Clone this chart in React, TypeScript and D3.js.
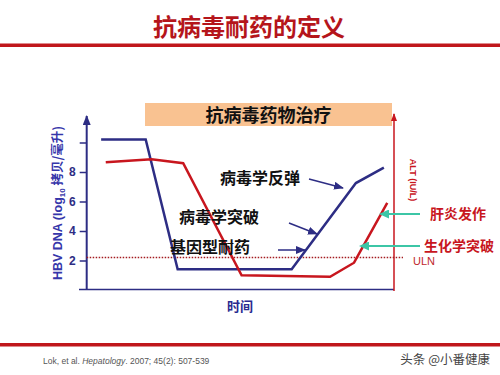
import React, { useEffect, useRef } from 'react';
import * as d3 from 'd3';

// time is in arbitrary units (0-100)
const dnaTime = [4.7, 19.2, 29.6, 66.7, 87.6, 96.7];
const dnaValues = [10.2, 10.2, 1.4, 1.4, 7.25, 8.3];
const altTime = [6.2, 21.1, 31.4, 50.4, 79.2, 87, 97.8];
const altValues = [8.66, 8.86, 8.6, 1.0, 0.9, 1.85, 5.9];
const yTicks = [2, 4, 6, 8, 10];
const tickLabels = ['2', '4', '6', '8', ''];
const ulnValue = 2.2;

const NAVY = '#2d2d84';
const RED = '#c8161e';
const TEAL = '#3cc6a6';
const CJK = '"Noto Sans CJK SC", sans-serif';
const LATIN = '"Liberation Sans", Arial, sans-serif';

const App: React.FC = () => {
  const axisRef = useRef<SVGGElement>(null);

  const x = d3.scaleLinear().domain([0, 100]).range([86.7, 394]);
  const y = d3.scaleLinear().domain([0, 12]).range([290, 113]);

  useEffect(() => {
    const g = d3.select(axisRef.current);
    g.selectAll('*').remove();
    g.call(
      d3.axisLeft(y)
        .tickValues(yTicks)
        .tickSize(7)
        .tickPadding(4)
        .tickFormat((d, i) => tickLabels[i])
    );
    g.select('.domain').remove();
    g.selectAll('.tick line').attr('stroke', NAVY).attr('stroke-width', 1.5);
    g.selectAll('.tick text')
      .attr('fill', NAVY)
      .attr('font-size', 12)
      .attr('font-weight', 'bold')
      .attr('font-family', LATIN);
  }, []);

  const dnaLine = d3.line<number>()
    .x((d, i) => x(dnaTime[i]))
    .y(d => y(d));
  const altLine = d3.line<number>()
    .x((d, i) => x(altTime[i]))
    .y(d => y(d));

  const navyArrows = [
    [309, 179, 343, 188],
    [289, 223, 317, 234],
    [278, 250, 305, 250],
  ];
  const tealArrows = [
    [420, 214, 388, 214],
    [420, 246, 368, 246],
  ];

  return (
    <svg width={500} height={375} style={{ position: 'absolute', left: 0, top: 0, background: '#fff' }}>
      <defs>
        <marker id="navyHead" markerUnits="userSpaceOnUse" markerWidth={10} markerHeight={8} refX={9} refY={4} orient="auto">
          <path d="M0,0 L10,4 L0,8 Z" fill={NAVY} />
        </marker>
        <marker id="tealHead" markerUnits="userSpaceOnUse" markerWidth={10} markerHeight={9} refX={1} refY={4.5} orient="auto">
          <path d="M0,4.5 L10,0 L10,9 Z" fill={TEAL} transform="rotate(180 5 4.5)" />
        </marker>
        <marker id="blueAxisHead" markerUnits="userSpaceOnUse" markerWidth={8} markerHeight={10} refX={4} refY={1} orient="0">
          <path d="M0,10 L4,0 L8,10 Z" fill={NAVY} />
        </marker>
        <marker id="redAxisHead" markerUnits="userSpaceOnUse" markerWidth={6} markerHeight={8} refX={3} refY={1} orient="0">
          <path d="M0,8 L3,0 L6,8 Z" fill={RED} />
        </marker>
      </defs>

      {/* header */}
      <text x={249} y={36} textAnchor="middle" fontFamily={CJK} fontWeight="bold" fontSize={24} fill="#b5151b">
        抗病毒耐药的定义
      </text>
      <rect x={0} y={43.5} width={500} height={3.5} fill="#c0171c" />

      {/* treatment box */}
      <rect x={145} y={103} width={247} height={23} fill="#f9c291" />
      <text x={268.5} y={121.5} textAnchor="middle" fontFamily={CJK} fontWeight="bold" fontSize={18} fill="#111">
        抗病毒药物治疗
      </text>

      {/* axes */}
      <line x1={x(0)} x2={x(0)} y1={y(0)} y2={116} stroke={NAVY} strokeWidth={2} markerEnd="url(#blueAxisHead)" />
      <line x1={79} x2={394} y1={y(0) - 0.5} y2={y(0) - 0.5} stroke={NAVY} strokeWidth={1.5} />
      <line x1={394} x2={394} y1={y(0) + 1} y2={114} stroke={RED} strokeWidth={1.5} markerEnd="url(#redAxisHead)" />
      <g ref={axisRef} transform={`translate(${x(0)},0)`} />

      {/* ULN */}
      <line x1={x(0)} x2={403} y1={y(ulnValue)} y2={y(ulnValue)} stroke="#a31b20" strokeWidth={1.5} strokeDasharray="1.5,1.5" />
      <text x={413} y={265} fontFamily={LATIN} fontSize={11} fill="#c0282c">ULN</text>

      {/* series */}
      <path d={dnaLine(dnaValues) || ''} fill="none" stroke={NAVY} strokeWidth={2.5} />
      <path d={altLine(altValues) || ''} fill="none" stroke={RED} strokeWidth={2.5} />

      {/* axis titles */}
      <text transform="translate(62,203) rotate(-90)" textAnchor="middle" fontFamily={LATIN} fontWeight="bold" fontSize={12.5} fill="#3636aa">
        HBV DNA (log<tspan fontSize={8} dy={3}>10</tspan><tspan dy={-3} fontFamily={CJK}> 拷贝/毫升)</tspan>
      </text>
      <text transform="translate(410,180) rotate(90)" textAnchor="middle" fontFamily={LATIN} fontWeight="bold" fontSize={9} fill={RED}>
        ALT (IU/L)
      </text>
      <text x={240} y={311} textAnchor="middle" fontFamily={CJK} fontWeight="bold" fontSize={13} fill="#2a2a90">时间</text>

      {/* annotations */}
      <text x={220} y={184} fontFamily={CJK} fontWeight="bold" fontSize={16} fill="#111">病毒学反弹</text>
      <text x={179} y={222.5} fontFamily={CJK} fontWeight="bold" fontSize={16} fill="#111">病毒学突破</text>
      <text x={170} y={253} fontFamily={CJK} fontWeight="bold" fontSize={16} fill="#111">基因型耐药</text>
      {navyArrows.map((a, i) => (
        <line key={i} x1={a[0]} y1={a[1]} x2={a[2]} y2={a[3]} stroke={NAVY} strokeWidth={1.5} markerEnd="url(#navyHead)" />
      ))}
      {tealArrows.map((a, i) => (
        <line key={i} x1={a[0]} y1={a[1]} x2={a[2]} y2={a[3]} stroke={TEAL} strokeWidth={2} markerEnd="url(#tealHead)" />
      ))}
      <text x={430} y={219} fontFamily={CJK} fontWeight="bold" fontSize={14} fill={RED}>肝炎发作</text>
      <text x={424} y={251} fontFamily={CJK} fontWeight="bold" fontSize={14} fill={RED}>生化学突破</text>

      {/* footer */}
      <rect x={0} y={343} width={500} height={3.5} fill="#c0171c" />
      <text x={43} y={364} fontFamily={LATIN} fontSize={8.5} fill="#555">
        Lok, et al. <tspan fontStyle="italic">Hepatology</tspan>. 2007; 45(2): 507-539
      </text>
      <text x={490} y={364} textAnchor="end" fontFamily={CJK} fontSize={12.5} fill="#444">头条 @小番健康</text>
    </svg>
  );
};

export default App;
